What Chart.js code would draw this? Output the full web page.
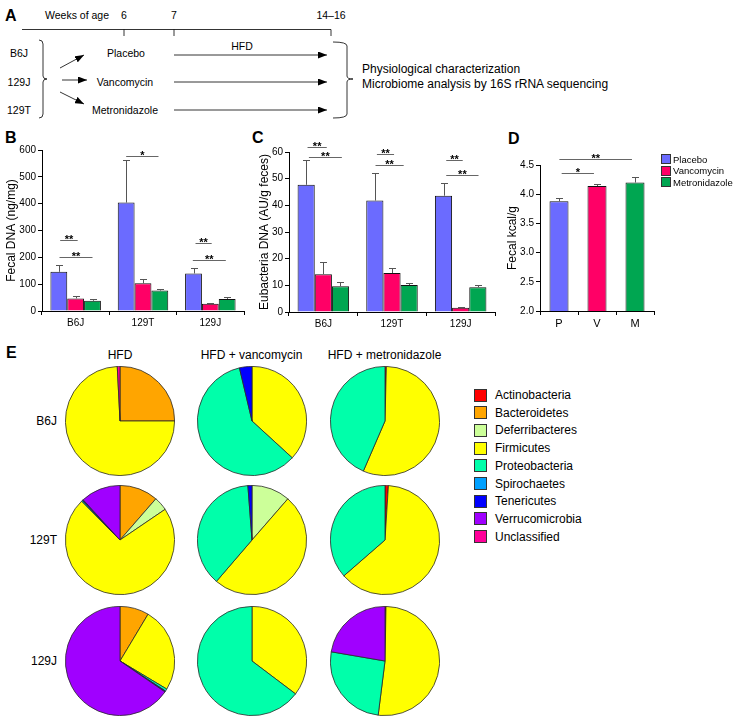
<!DOCTYPE html>
<html>
<head>
<meta charset="utf-8">
<script src="https://cdn.jsdelivr.net/npm/chart.js"></script>
<style>
  body { margin: 0; background: #fff; font-family: "Liberation Sans", Arial, sans-serif; color: #000; }
  #fig { position: relative; width: 736px; height: 723px; overflow: hidden; }
  canvas, svg { position: absolute; }
  .t { position: absolute; white-space: nowrap; line-height: 1; }
  .letter { position: absolute; font-weight: bold; font-size: 16px; line-height: 1; }
  .sw { position: absolute; box-sizing: border-box; border: 1px solid #333; }
</style>
</head>
<body>
<div id="fig">
  <svg style="left:0;top:0" width="736" height="128" font-family="Liberation Sans, Arial, sans-serif">
    <defs>
      <marker id="ah" markerWidth="9" markerHeight="7" refX="9" refY="3.5" orient="auto" markerUnits="userSpaceOnUse">
        <path d="M0,0 L9,3.5 L0,7 z" fill="#000"/>
      </marker>
    </defs>
    <text x="5" y="21" font-size="16" font-weight="bold">A</text>
    <text x="45" y="19" font-size="10.5">Weeks of age</text>
    <text x="124" y="19" font-size="10.5" text-anchor="middle">6</text>
    <text x="174" y="19" font-size="10.5" text-anchor="middle">7</text>
    <text x="331" y="19" font-size="10.5" text-anchor="middle">14–16</text>
    <path d="M22 29.5 H331 M124 29.5 V36 M174 29.5 V36 M331 29.5 V36" stroke="#000" stroke-width="0.8" fill="none"/>
    <text x="19" y="57" font-size="10.5" text-anchor="middle">B6J</text>
    <text x="19" y="86" font-size="10.5" text-anchor="middle">129J</text>
    <text x="19" y="114" font-size="10.5" text-anchor="middle">129T</text>
    <path d="M39 40 Q43 40 43 44 V76 Q43 79 47 79 Q43 79 43 82 V114 Q43 118 39 118" stroke="#000" stroke-width="0.8" fill="none"/>
    <g stroke="#000" stroke-width="0.8" marker-end="url(#ah)">
      <line x1="60" y1="68" x2="84" y2="55"/>
      <line x1="62" y1="80" x2="87" y2="80"/>
      <line x1="60" y1="92" x2="84" y2="104"/>
      <line x1="174" y1="55" x2="327" y2="55"/>
      <line x1="174" y1="82" x2="327" y2="82"/>
      <line x1="174" y1="110" x2="327" y2="110"/>
    </g>
    <text x="126" y="57" font-size="10.5" text-anchor="middle">Placebo</text>
    <text x="125" y="86" font-size="10.5" text-anchor="middle">Vancomycin</text>
    <text x="125" y="114" font-size="10.5" text-anchor="middle">Metronidazole</text>
    <text x="242" y="50" font-size="10.5" text-anchor="middle">HFD</text>
    <path d="M333 42 Q347 42 347 46 V76 Q347 79 353 79 Q347 79 347 82 V114 Q347 118 333 118" stroke="#000" stroke-width="0.8" fill="none"/>
    <text x="362" y="73" font-size="12">Physiological characterization</text>
    <text x="362" y="88" font-size="12">Microbiome analysis by 16S rRNA sequencing</text>
  </svg>

  <div class="letter" style="left:5px;top:130px">B</div>
  <div class="letter" style="left:252px;top:130px">C</div>
  <div class="letter" style="left:508px;top:131px">D</div>
  <div class="letter" style="left:6px;top:345px">E</div>

  <canvas id="chartB" width="250" height="210" style="left:0;top:130px"></canvas>
  <canvas id="chartC" width="250" height="210" style="left:250px;top:130px"></canvas>
  <canvas id="chartD" width="236" height="210" style="left:500px;top:130px"></canvas>
  <div id="legendD"></div>
  <div id="pies"></div>
  <div id="legendE"></div>
</div>

<script>
Chart.defaults.font.family = '"Liberation Sans", Arial, sans-serif';
Chart.defaults.color = '#000';

// panel B/C/D data
const groups = ['Placebo', 'Vancomycin', 'Metronidazole'];
const groupColors = ['#6b6bff', '#ff0066', '#00a651'];
const strains = ['B6J', '129T', '129J'];

const dnaPlacebo = [146, 404, 140];
const dnaVanco = [47, 103, 27];
const dnaMetro = [38, 76, 45];
const dnaErrPlacebo = [25, 159, 21];
const dnaErrVanco = [9, 15, 3];
const dnaErrMetro = [6, 7, 6];

const eubPlacebo = [47.7, 41.8, 43.6];
const eubVanco = [14.2, 14.6, 1.6];
const eubMetro = [9.7, 10.1, 9.3];
const eubErrPlacebo = [9.2, 10.3, 4.8];
const eubErrVanco = [4.5, 2.0, 0.4];
const eubErrMetro = [1.4, 0.7, 1.0];

const kcalLabels = ['P', 'V', 'M'];
const kcalMean = [3.88, 4.14, 4.20];
const kcalErr = [0.06, 0.04, 0.09];

// significance bars: [category, from, to (category units), y value, mark]
const sigB = [[0, -0.23, 0.03, 265, '**'], [0, -0.24, 0.25, 201, '**'], [1, -0.25, 0.23, 579, '*'],
              [2, -0.22, 0.02, 255, '**'], [2, -0.26, 0.23, 190, '**']];
const sigC = [[0, -0.23, 0.05, 61.9, '**'], [0, -0.21, 0.27, 58, '**'], [1, -0.22, 0.03, 59.3, '**'],
              [1, -0.24, 0.17, 55.2, '**'], [2, -0.21, 0.03, 57.1, '**'], [2, -0.21, 0.26, 51.5, '**']];
const sigD = [[0, 0.07, 0.92, 4.36, '*'], [0, 0.01, 1.92, 4.61, '**']];

// panel E data (percent, in phyla order)
const phyla = ['Actinobacteria', 'Bacteroidetes', 'Deferribacteres', 'Firmicutes', 'Proteobacteria',
               'Spirochaetes', 'Tenericutes', 'Verrucomicrobia', 'Unclassified'];
const phylaColors = ['#ff0000', '#ffa500', '#ccff99', '#ffff00', '#00ffaa', '#00a0ff', '#0000ff', '#a000ff', '#ff0099'];
const treatments = ['HFD', 'HFD + vancomycin', 'HFD + metronidazole'];
const b6jPies = [
  [0, 25, 0, 74.2, 0, 0, 0, 0, 0.8],
  [0, 0, 0, 36.8, 59.5, 0, 3.7, 0, 0],
  [0.4, 0, 0, 56.1, 43.5, 0, 0, 0, 0]
];
const t129Pies = [
  [0, 11.4, 4.1, 72.1, 0.3, 0, 0.3, 11.8, 0],
  [0, 0, 11.4, 49.9, 37.5, 0, 1.2, 0, 0],
  [1, 0, 0, 62.6, 36.4, 0, 0, 0, 0]
];
const j129Pies = [
  [0, 8.6, 0, 25, 0.7, 0, 0.3, 65.4, 0],
  [0, 0, 0, 35.3, 64.7, 0, 0, 0, 0],
  [0.3, 0, 0, 51.7, 25.7, 0, 0, 22.3, 0]
];

const errorBars = {
  id: 'errorBars',
  afterDatasetsDraw(chart) {
    const { ctx, scales: { y } } = chart;
    ctx.save();
    ctx.strokeStyle = '#555';
    ctx.lineWidth = 1;
    chart.data.datasets.forEach((ds, i) => {
      chart.getDatasetMeta(i).data.forEach((bar, j) => {
        const top = Math.round(y.getPixelForValue(ds.data[j] + ds.errors[j])) + 0.5;
        const x = Math.round(bar.x) + 0.5;
        ctx.beginPath();
        ctx.moveTo(x, bar.y);
        ctx.lineTo(x, top);
        ctx.moveTo(x - 3.5, top);
        ctx.lineTo(x + 3.5, top);
        ctx.stroke();
      });
    });
    ctx.restore();
  }
};

function sigPlugin(items) {
  return {
    id: 'sig',
    afterDraw(chart) {
      const { ctx, scales: { x, y } } = chart;
      ctx.save();
      ctx.strokeStyle = '#666';
      ctx.lineWidth = 1;
      ctx.fillStyle = '#000';
      ctx.font = 'bold 11px "Liberation Sans", Arial, sans-serif';
      ctx.textAlign = 'center';
      items.forEach(([c, a, b, v, mark]) => {
        const x0 = x.getPixelForValue(c + a), x1 = x.getPixelForValue(c + b);
        const yy = Math.round(y.getPixelForValue(v)) + 0.5;
        ctx.beginPath();
        ctx.moveTo(x0, yy);
        ctx.lineTo(x1, yy);
        ctx.stroke();
        ctx.fillText(mark, (x0 + x1) / 2, yy + 2.5);
      });
      ctx.restore();
    }
  };
}

function barChart(id, labels, datasets, yMin, yMax, step, yTitle, sig, fit) {
  return new Chart(document.getElementById(id), {
    type: 'bar',
    data: { labels, datasets },
    options: {
      responsive: false, animation: false, events: [],
      layout: { padding: { top: fit.top, right: fit.right, left: 0, bottom: 0 } },
      plugins: { legend: { display: false }, tooltip: { enabled: false } },
      scales: {
        x: {
          grid: { drawOnChartArea: false, color: '#000', tickLength: 4 },
          border: { color: '#000' },
          ticks: { color: '#000', font: { size: fit.xFont }, padding: 2 },
          afterFit: s => { s.height = fit.bottom; }
        },
        y: {
          min: yMin, max: yMax,
          ticks: { stepSize: step, color: '#000', font: { size: 10 }, padding: 2 },
          grid: { drawOnChartArea: false, color: '#000', tickLength: 4 },
          border: { color: '#000' },
          title: { display: true, text: yTitle, color: '#000', font: { size: 12 }, padding: { top: fit.titlePad, bottom: 0 } },
          afterFit: s => { s.width = fit.left; }
        }
      }
    },
    plugins: [errorBars, sigPlugin(sig)]
  });
}

function groupSets(means, errs) {
  return means.map((d, i) => ({
    label: groups[i], data: d, errors: errs[i],
    backgroundColor: groupColors[i], borderColor: '#111', borderWidth: 1,
    categoryPercentage: 0.75, barPercentage: 1
  }));
}

barChart('chartB', strains,
  groupSets([dnaPlacebo, dnaVanco, dnaMetro], [dnaErrPlacebo, dnaErrVanco, dnaErrMetro]),
  0, 600, 100, 'Fecal DNA (ng/mg)', sigB,
  { left: 42, top: 20, right: 6, bottom: 29, titlePad: 4, xFont: 10 });

barChart('chartC', strains,
  groupSets([eubPlacebo, eubVanco, eubMetro], [eubErrPlacebo, eubErrVanco, eubErrMetro]),
  0, 60, 10, 'Eubacteria DNA (AU/g feces)', sigC,
  { left: 39, top: 22, right: 5, bottom: 28, titlePad: 7, xFont: 10 });

barChart('chartD', kcalLabels,
  [{ label: 'Fecal kcal/g', data: kcalMean, errors: kcalErr, backgroundColor: groupColors,
     borderColor: '#111', borderWidth: 1, categoryPercentage: 1, barPercentage: 0.5 }],
  2.0, 4.5, 0.5, 'Fecal kcal/g', sigD,
  { left: 40, top: 35, right: 82, bottom: 29, titlePad: 5, xFont: 11 });

// legend for D
const legendD = document.getElementById('legendD');
groups.forEach((g, i) => {
  const top = 154 + i * 11.5;
  legendD.insertAdjacentHTML('beforeend',
    `<div class="sw" style="left:661px;top:${top}px;width:10px;height:10px;background:${groupColors[i]}"></div>` +
    `<div class="t" style="left:673px;top:${top + 0.5}px;font-size:9.5px">${g}</div>`);
});

// pies
const pieRows = [['B6J', b6jPies], ['129T', t129Pies], ['129J', j129Pies]];
const pieX = [120, 251.5, 384.5];
const pieY = [420.5, 540, 660.5];
const pieSize = 110;
const pies = document.getElementById('pies');

treatments.forEach((t, c) => {
  pies.insertAdjacentHTML('beforeend',
    `<div class="t" style="left:${pieX[c] - 100}px;width:200px;text-align:center;top:349px;font-size:12px">${t}</div>`);
});

pieRows.forEach(([strain, rows], r) => {
  pies.insertAdjacentHTML('beforeend',
    `<div class="t" style="left:0;width:57px;text-align:right;top:${pieY[r] - 6}px;font-size:12px">${strain}</div>`);
  rows.forEach((vals, c) => {
    const cv = document.createElement('canvas');
    cv.width = pieSize; cv.height = pieSize;
    cv.style.left = (pieX[c] - pieSize / 2) + 'px';
    cv.style.top = (pieY[r] - pieSize / 2) + 'px';
    pies.appendChild(cv);
    new Chart(cv, {
      type: 'pie',
      data: { labels: phyla, datasets: [{ data: vals, backgroundColor: phylaColors, borderColor: '#2a2a2a', borderWidth: 0.8 }] },
      options: {
        responsive: false, animation: false, events: [],
        plugins: { legend: { display: false }, tooltip: { enabled: false } }
      }
    });
  });
});

// legend for E
const legendE = document.getElementById('legendE');
phyla.forEach((p, i) => {
  const cy = 395 + i * 17.7;
  legendE.insertAdjacentHTML('beforeend',
    `<div class="sw" style="left:474px;top:${cy - 6.5}px;width:13px;height:13px;background:${phylaColors[i]}"></div>` +
    `<div class="t" style="left:495px;top:${cy - 6}px;font-size:12px">${p}</div>`);
});
</script>
</body>
</html>
